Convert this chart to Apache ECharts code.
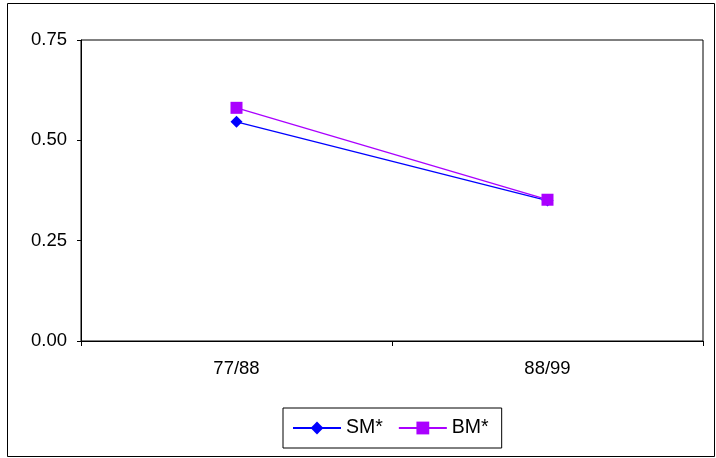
<!DOCTYPE html>
<html>
<head>
<meta charset="utf-8">
<script src="https://cdn.jsdelivr.net/npm/echarts@6/dist/echarts.min.js"></script>
<style>
html,body{margin:0;padding:0;background:#fff;}
#c{width:716px;height:458px;}
</style>
</head>
<body>
<div id="c"></div>
<script>
var categories = ['77/88', '88/99'];
var smValues = [0.546, 0.350];
var bmValues = [0.581, 0.352];
var yTicks = [0, 0.25, 0.5, 0.75];

var chart = echarts.init(document.getElementById('c'), null, {renderer: 'canvas'});
var font = 'Liberation Sans, Arial, sans-serif';
chart.setOption({
  animation: false,
  backgroundColor: '#fff',
  graphic: [{
    type: 'rect',
    shape: {x: 7.5, y: 3.5, width: 707, height: 453},
    style: {fill: 'none', stroke: '#000', lineWidth: 1},
    silent: true
  }],
  grid: {
    left: 81, right: 13, top: 40, bottom: 117,
    show: true, borderColor: '#000', borderWidth: 1, backgroundColor: '#fff'
  },
  xAxis: {
    type: 'category',
    data: categories,
    boundaryGap: true,
    axisLine: {lineStyle: {color: '#000', width: 1}},
    axisTick: {show: true, length: 5, lineStyle: {color: '#000'}},
    axisLabel: {color: '#000', fontFamily: font, fontSize: 18.5, margin: 18}
  },
  yAxis: {
    type: 'value',
    min: 0, max: 0.75, interval: 0.25,
    axisLine: {show: true, lineStyle: {color: '#000', width: 1}},
    axisTick: {show: true, length: 4, lineStyle: {color: '#000'}},
    splitLine: {show: false},
    axisLabel: {color: '#000', fontFamily: font, fontSize: 18.5, margin: 14,
      formatter: function (v) { return v.toFixed(2); }}
  },
  legend: {
    left: 283, top: 408,
    padding: [10, 13, 10, 9],
    borderColor: '#000', borderWidth: 1,
    itemWidth: 48, itemHeight: 16, itemGap: 15,
    textStyle: {color: '#000', fontFamily: font, fontSize: 19.5},
    data: ['SM*', 'BM*']
  },
  series: [
    {
      name: 'SM*', type: 'line', data: smValues,
      symbol: 'diamond', symbolSize: 12,
      itemStyle: {color: '#0000FF'},
      lineStyle: {color: '#0000FF', width: 1.3},
      z: 2
    },
    {
      name: 'BM*', type: 'line', data: bmValues,
      symbol: 'rect', symbolSize: 12,
      itemStyle: {color: '#AA00FF'},
      lineStyle: {color: '#AA00FF', width: 1.3},
      z: 3
    }
  ]
});
</script>
</body>
</html>
